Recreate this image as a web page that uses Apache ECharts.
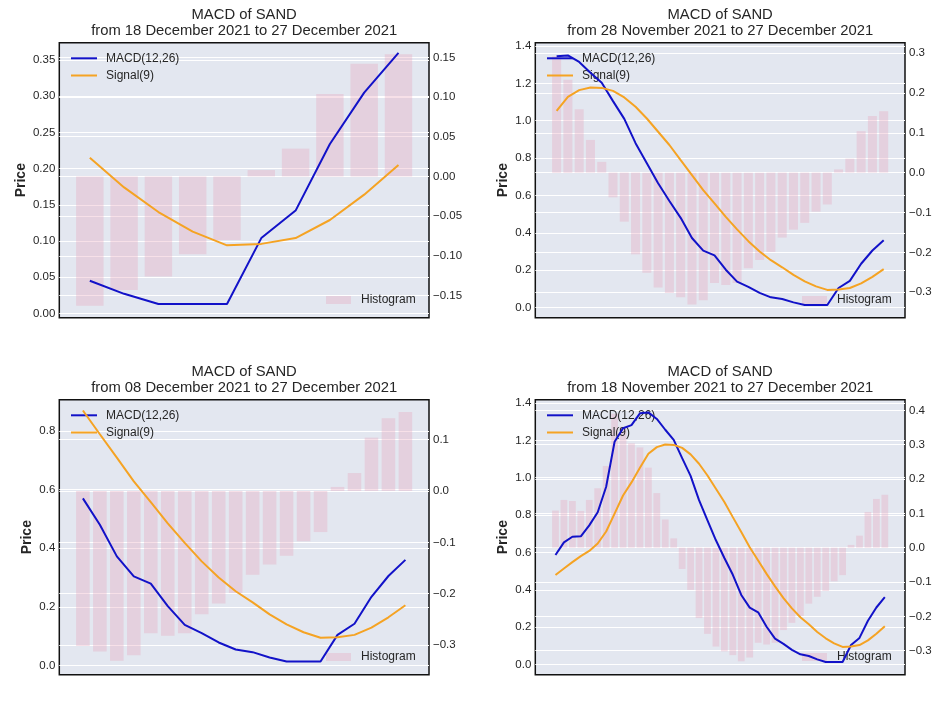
<!DOCTYPE html>
<html><head><meta charset="utf-8">
<script src="https://cdn.jsdelivr.net/npm/echarts@6/dist/echarts.min.js"></script>
<style>html,body{margin:0;padding:0;background:#fff;}#c{width:952px;height:714px;}</style>
</head><body><div id="c"></div>
<script>
// ---- data (daily values, 18 Nov 2021 .. 27 Dec 2021) ----
const dates = ['2021-11-18','2021-11-19','2021-11-20','2021-11-21','2021-11-22','2021-11-23','2021-11-24','2021-11-25','2021-11-26','2021-11-27',
  '2021-11-28','2021-11-29','2021-11-30','2021-12-01','2021-12-02','2021-12-03','2021-12-04','2021-12-05','2021-12-06','2021-12-07',
  '2021-12-08','2021-12-09','2021-12-10','2021-12-11','2021-12-12','2021-12-13','2021-12-14','2021-12-15','2021-12-16','2021-12-17',
  '2021-12-18','2021-12-19','2021-12-20','2021-12-21','2021-12-22','2021-12-23','2021-12-24','2021-12-25','2021-12-26','2021-12-27'];
const macd = [0.586, 0.654, 0.684, 0.686, 0.745, 0.815, 0.952, 1.193, 1.265, 1.282,
  1.345, 1.350, 1.315, 1.257, 1.203, 1.105, 1.010, 0.880, 0.772, 0.665,
  0.570, 0.480, 0.372, 0.304, 0.279, 0.202, 0.138, 0.110, 0.078, 0.054,
  0.045, 0.027, 0.013, 0.013, 0.013, 0.104, 0.142, 0.234, 0.305, 0.360];
const signal = [0.479, 0.514, 0.548, 0.580, 0.608, 0.648, 0.712, 0.808, 0.905, 0.975,
  1.053, 1.128, 1.164, 1.178, 1.176, 1.160, 1.125, 1.075, 1.012, 0.941,
  0.870, 0.789, 0.709, 0.628, 0.557, 0.485, 0.418, 0.355, 0.300, 0.253,
  0.215, 0.174, 0.140, 0.113, 0.094, 0.096, 0.104, 0.129, 0.164, 0.205];
const hist = [0.108, 0.139, 0.136, 0.107, 0.139, 0.173, 0.238, 0.390, 0.352, 0.304,
  0.292, 0.233, 0.159, 0.082, 0.027, -0.062, -0.123, -0.205, -0.251, -0.288,
  -0.302, -0.313, -0.331, -0.320, -0.277, -0.282, -0.277, -0.240, -0.219, -0.199,
  -0.163, -0.143, -0.126, -0.098, -0.080, 0.008, 0.035, 0.104, 0.142, 0.154];

// panels: top-left, top-right, bottom-left, bottom-right
const windowDays = [10, 30, 20, 40];
const titleMain = 'MACD of SAND';
const periodText = ['from 18 December 2021 to 27 December 2021', 'from 28 November 2021 to 27 December 2021',
  'from 08 December 2021 to 27 December 2021', 'from 18 November 2021 to 27 December 2021'];
const seriesNames = ['MACD(12,26)', 'Signal(9)', 'Histogram'];
const yName = 'Price';
const leftTicks = [[0, 0.05, 0.10, 0.15, 0.20, 0.25, 0.30, 0.35], [0, 0.2, 0.4, 0.6, 0.8, 1.0, 1.2, 1.4],
  [0, 0.2, 0.4, 0.6, 0.8], [0, 0.2, 0.4, 0.6, 0.8, 1.0, 1.2, 1.4]];
const rightTicks = [[-0.15, -0.10, -0.05, 0, 0.05, 0.10, 0.15], [-0.3, -0.2, -0.1, 0, 0.1, 0.2, 0.3],
  [-0.3, -0.2, -0.1, 0, 0.1], [-0.3, -0.2, -0.1, 0, 0.1, 0.2, 0.3, 0.4]];
const leftDecimals = [2, 1, 1, 1];
const rightDecimals = [2, 1, 1, 1];
const leftRange = [[-0.006, 0.374], [-0.055, 1.418], [-0.032, 0.907], [-0.055, 1.418]];
const rightRange = [[-0.178, 0.1685], [-0.364, 0.326], [-0.358, 0.178], [-0.370, 0.431]];

// ---- layout / style ----
const FONT = '"Liberation Sans", Arial, Helvetica, sans-serif';
const BG = '#e3e7f0';
const TXT = '#262626';
const BLUE = '#1212c8';
const ORANGE = '#f5a323';
const PINK = 'rgba(232,160,185,0.33)';
const plots = [{x: 59.3, y: 42.7}, {x: 535.3, y: 42.7}, {x: 59.3, y: 399.7}, {x: 535.3, y: 399.7}];
const PW = 369.7, PH = 275;
const nameGaps = [31, 25, 25, 25];

function fmt(dec) {
  return function (v) {
    const s = Math.abs(v).toFixed(dec);
    return (v < -1e-9 ? '\u2212' : '') + s;
  };
}

const option = {
  animation: false, backgroundColor: '#ffffff',
  title: [], grid: [], xAxis: [], yAxis: [], legend: [], series: []
};

windowDays.forEach(function (n, p) {
  const start = macd.length - n;
  const m = macd.slice(start), s = signal.slice(start), h = hist.slice(start);
  const P = plots[p];
  const half = 0.4, pad = 0.05 * (n - 1 + 2 * half);
  const xmin = -half - pad, xmax = n - 1 + half + pad;
  const barPx = 0.8 * PW / (xmax - xmin);

  option.title.push({
    text: titleMain + '\n' + periodText[p],
    left: P.x + PW / 2, top: P.y - 35.9, textAlign: 'center', padding: 0,
    textStyle: {fontSize: 14.8, fontWeight: 'normal', color: TXT, fontFamily: FONT, lineHeight: 16}
  });
  option.grid.push({
    left: P.x, top: P.y, width: PW, height: PH, show: true, backgroundColor: BG,
    borderColor: '#111111', borderWidth: 1.5, containLabel: false, outerBoundsMode: 'none'
  });
  option.xAxis.push({type: 'value', gridIndex: p, min: xmin, max: xmax, show: false});
  const axisCommon = {
    type: 'value', gridIndex: p,
    axisLine: {show: false},
    splitLine: {show: true, lineStyle: {color: '#ffffff', width: 1.2}}
  };
  option.yAxis.push(Object.assign({}, axisCommon, {
    position: 'left', min: leftRange[p][0], max: leftRange[p][1],
    name: yName, nameLocation: 'middle', nameGap: nameGaps[p], nameRotate: 90,
    nameTextStyle: {fontWeight: 'bold', fontSize: 14, color: TXT, fontFamily: FONT},
    axisTick: {show: false, customValues: leftTicks[p]},
    axisLabel: {customValues: leftTicks[p], formatter: fmt(leftDecimals[p]), margin: 4,
      color: TXT, fontSize: 11.5, fontFamily: FONT}
  }));
  option.yAxis.push(Object.assign({}, axisCommon, {
    position: 'right', min: rightRange[p][0], max: rightRange[p][1],
    axisTick: {show: false, customValues: rightTicks[p]},
    axisLabel: {customValues: rightTicks[p], formatter: fmt(rightDecimals[p]), margin: 4,
      color: TXT, fontSize: 11.5, fontFamily: FONT}
  }));

  option.series.push({
    type: 'bar', name: seriesNames[2], xAxisIndex: p, yAxisIndex: 2 * p + 1,
    data: h.map(function (v, i) { return [i, v]; }),
    barWidth: barPx, itemStyle: {color: PINK}, z: 2, silent: true
  });
  option.series.push({
    type: 'line', name: seriesNames[0], xAxisIndex: p, yAxisIndex: 2 * p,
    data: m.map(function (v, i) { return [i, v]; }),
    symbol: 'none', itemStyle: {color: BLUE}, lineStyle: {color: BLUE, width: 2}, z: 10, silent: true
  });
  option.series.push({
    type: 'line', name: seriesNames[1], xAxisIndex: p, yAxisIndex: 2 * p,
    data: s.map(function (v, i) { return [i, v]; }),
    symbol: 'none', itemStyle: {color: ORANGE}, lineStyle: {color: ORANGE, width: 2}, z: 10, silent: true
  });

  option.legend.push({
    left: P.x + 11.7, top: P.y + 16.6 - 7, orient: 'vertical', padding: 0,
    itemWidth: 26, itemHeight: 14, itemGap: 5.2, selectedMode: false,
    icon: 'path://M0,0H26V2H0Z',
    data: [seriesNames[0], seriesNames[1]],
    textStyle: {color: TXT, fontSize: 12, fontFamily: FONT, padding: [0, 0, 0, 4]}
  });
  option.legend.push({
    left: P.x + 266.7, top: P.y + 257.3 - 6, orient: 'vertical', padding: 0,
    itemWidth: 25, itemHeight: 8, selectedMode: false, icon: 'rect',
    data: [seriesNames[2]],
    textStyle: {color: TXT, fontSize: 12, fontFamily: FONT, padding: [0, 0, 0, 5]}
  });
});

const chart = echarts.init(document.getElementById('c'), null, {renderer: 'canvas'});
chart.setOption(option);
</script></body></html>
